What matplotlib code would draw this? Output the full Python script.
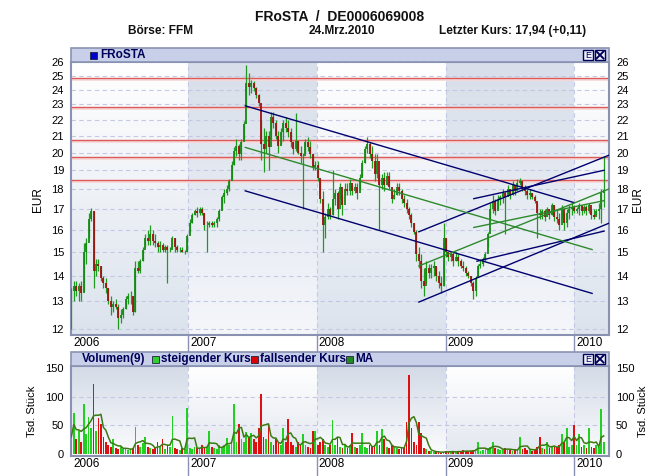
import matplotlib
matplotlib.use('Agg')
import matplotlib.pyplot as plt
import matplotlib.dates as mdates
import matplotlib.colors as mcolors
from matplotlib.patches import Rectangle
from matplotlib import font_manager as fm
import numpy as np
import pandas as pd

# ---------------- data ----------------
start_date = '2006-02-03'
n_weeks = 217
low = [12.0,13.0,13.2,13.0,13.0,13.4,14.5,15.6,16.4,13.5,
       14.0,14.2,13.8,13.5,13.3,12.9,12.5,12.6,12.7,12.0,
       12.2,12.4,12.7,12.9,12.9,12.5,12.6,14.1,14.1,14.6,
       15.2,15.3,15.3,15.3,15.2,15.0,15.0,15.0,15.0,13.7,
       15.0,15.2,15.0,15.0,15.0,15.0,14.9,15.0,15.9,16.3,
       16.7,16.6,16.7,16.7,16.0,15.0,16.1,16.1,16.1,16.1,
       16.4,17.0,17.3,17.7,17.9,18.5,19.3,19.8,19.6,19.6,
       20.8,22.8,23.6,23.8,23.9,23.4,22.9,19.6,18.9,20.0,
       19.0,20.8,21.5,20.8,20.0,20.5,20.7,21.2,20.9,20.3,
       19.9,20.1,19.9,19.4,17.0,20.0,20.1,19.7,19.0,19.0,
       18.4,17.3,15.0,15.6,16.5,16.5,16.7,17.2,16.5,17.5,
       16.7,17.7,17.7,17.7,17.7,17.8,17.5,18.0,18.7,19.4,
       20.0,19.7,19.1,18.4,18.6,16.0,18.0,17.9,18.2,18.0,
       17.3,17.5,17.7,17.7,17.3,17.1,16.8,16.5,16.1,15.8,
       14.6,14.3,13.5,13.2,13.7,13.9,13.9,14.0,13.8,13.5,
       13.3,13.6,14.8,14.6,14.6,14.4,14.6,14.4,14.3,14.2,
       14.0,13.9,13.6,13.1,13.2,14.0,14.3,14.4,14.6,15.2,
       16.5,16.8,16.7,17.0,17.2,17.3,15.8,17.7,17.5,17.7,
       17.7,18.1,18.2,17.9,17.7,17.5,17.5,17.5,17.3,15.6,
       16.5,16.5,16.4,16.7,16.5,16.7,16.4,16.3,16.0,16.5,
       16.0,16.1,16.5,16.7,16.8,16.8,16.7,16.7,16.8,16.7,
       16.8,16.5,16.5,16.7,16.5,16.3,17.1]
high = [13.5,13.8,13.8,13.7,13.8,15.4,15.6,16.8,17.05,16.9,
        14.7,14.7,14.4,14.0,13.9,13.5,13.2,13.0,13.1,12.9,
        12.7,12.8,13.2,13.3,13.4,13.2,14.6,14.6,14.7,15.2,
        15.8,16.0,16.2,16.0,15.8,15.5,15.5,15.4,15.3,15.3,
        15.2,15.7,15.6,15.3,15.2,15.2,15.1,15.8,16.5,16.8,
        17.0,17.1,17.1,17.1,16.8,16.4,16.4,16.4,16.4,16.6,
        17.0,17.7,18.0,18.2,18.5,19.5,20.3,20.8,20.5,20.8,
        21.9,25.8,25.2,24.7,24.6,24.2,23.7,22.0,21.5,21.3,
        21.3,22.5,22.5,22.0,21.3,21.5,22.0,22.2,22.0,21.5,
        20.7,22.4,20.7,20.4,20.0,20.8,20.9,20.7,19.9,19.5,
        19.5,18.5,17.9,16.8,17.3,17.1,19.0,18.0,17.9,18.3,
        17.7,18.3,18.3,18.5,18.2,18.3,18.3,18.8,19.6,20.4,
        20.9,20.6,20.4,19.9,19.9,18.8,18.8,18.9,18.9,18.9,
        18.0,18.0,18.3,18.3,18.0,17.7,17.5,17.1,16.8,16.3,
        16.0,15.2,14.9,14.3,14.6,14.5,14.5,14.6,14.4,14.2,
        14.0,16.3,15.6,15.0,15.0,15.0,15.0,14.9,14.7,14.6,
        14.4,14.2,14.0,13.8,14.0,14.5,14.7,14.8,15.0,15.9,
        17.3,17.7,17.5,17.7,17.7,18.0,17.9,18.2,18.0,18.4,
        18.2,18.5,18.6,18.4,18.2,18.0,18.0,17.8,17.7,17.3,
        17.0,17.0,17.0,17.1,17.0,17.3,17.2,17.0,16.8,17.2,
        16.8,17.0,17.2,17.3,17.2,17.1,17.3,17.2,17.2,17.2,
        17.3,17.0,17.0,17.0,17.3,18.0,19.8]
close = [13.4,13.6,13.4,13.6,13.3,15.0,15.4,16.5,16.9,14.2,
         14.5,14.4,13.9,13.7,13.5,13.0,12.8,12.9,12.8,12.4,
         12.5,12.7,13.1,13.2,13.2,12.6,14.3,14.2,14.6,15.1,
         15.6,15.5,15.8,15.5,15.4,15.2,15.3,15.1,15.2,15.1,
         15.1,15.6,15.2,15.1,15.1,15.0,15.0,15.7,16.3,16.7,
         16.9,16.8,17.0,16.8,16.2,16.2,16.3,16.2,16.3,16.5,
         16.9,17.6,17.8,18.0,18.4,19.3,20.1,20.4,19.9,20.6,
         21.7,24.5,24.2,24.5,24.1,23.6,23.1,20.5,20.2,21.0,
         20.3,22.2,21.8,21.0,20.4,21.2,21.8,21.5,21.2,20.6,
         20.2,20.7,20.0,19.8,19.8,20.6,20.3,19.9,19.2,19.3,
         18.6,17.5,16.2,16.6,17.0,16.7,17.5,17.8,17.0,18.1,
         17.2,18.0,17.9,18.3,17.9,18.1,17.8,18.6,19.4,20.2,
         20.5,19.9,19.5,18.8,19.5,18.2,18.6,18.2,18.7,18.1,
         17.5,17.7,18.1,17.9,17.5,17.3,17.0,16.7,16.3,15.9,
         14.9,14.6,13.8,13.6,14.3,14.1,14.3,14.4,14.0,13.7,
         13.6,15.6,15.0,14.8,14.9,14.6,14.8,14.6,14.4,14.3,
         14.1,14.0,13.7,13.4,13.9,14.4,14.5,14.7,14.9,15.8,
         17.0,17.4,16.9,17.5,17.6,17.8,17.6,18.0,17.7,18.2,
         17.9,18.3,18.4,18.0,17.9,17.7,17.8,17.6,17.4,16.8,
         16.7,16.9,16.6,17.0,16.7,17.2,16.6,16.5,16.2,17.0,
         16.3,16.8,17.0,17.1,16.9,17.0,17.2,16.9,17.1,16.9,
         17.2,16.7,16.6,16.9,17.0,17.8,17.94]
volume = [30,72,25,40,20,88,35,64,45,122,
          40,63,52,30,20,15,12,25,10,8,
          12,8,10,6,8,10,47,15,12,18,
          30,12,10,8,10,20,12,25,8,15,
          12,66,10,8,6,10,8,81,10,8,
          12,10,8,15,10,12,40,12,10,8,
          15,12,15,28,15,20,88,20,52,25,
          20,38,30,36,25,20,45,105,30,25,
          50,20,15,25,18,15,45,20,61,20,
          15,12,20,15,34,15,12,10,40,40,
          15,20,25,15,12,15,59,15,28,12,
          10,15,10,15,37,12,10,15,37,12,
          10,15,12,15,40,15,44,25,12,10,
          15,12,10,8,12,10,56,139,45,20,
          15,55,37,10,8,5,4,3,3,3,
          2,3,5,3,3,4,3,5,3,6,
          4,5,4,6,8,20,5,6,8,10,
          12,20,10,8,6,8,10,8,6,5,
          8,6,30,8,10,6,8,5,8,12,
          30,10,8,20,10,12,12,12,15,35,
          20,45,12,15,50,15,35,12,15,10,
          45,12,10,15,12,78,20]
resistance_levels = [24.8, 22.8, 20.75, 19.75, 18.45]
navy_lines = [(('2007-06-12', 22.9), ('2010-01-01', 17.3)),
              (('2007-06-12', 17.9), ('2010-02-21', 13.3)),
              (('2008-10-17', 12.97), ('2010-04-10', 16.3)),
              (('2008-10-17', 15.9), ('2010-04-10', 19.85)),
              (('2009-03-31', 14.6), ('2010-03-27', 15.93)),
              (('2009-03-22', 17.5), ('2010-03-27', 19.0))]
green_lines = [(('2007-06-12', 20.3), ('2010-02-21', 15.1)),
               (('2008-10-17', 14.4), ('2010-04-10', 18.0)),
               (('2009-03-22', 16.1), ('2010-03-27', 17.4))]
price_ticks = list(range(12, 27))
vol_ticks = [0, 50, 100, 150]
year_labels = ['2006', '2007', '2008', '2009', '2010']
x_min, x_max = '2006-02-02', '2010-04-10'

# ---------------- style ----------------
plt.rcParams['font.family'] = ['Liberation Sans', 'DejaVu Sans']
try:
    fm.findfont(fm.FontProperties(family='Liberation Sans Narrow'), fallback_to_default=False)
    NARROW = ['Liberation Sans Narrow', 'Liberation Sans', 'DejaVu Sans']
    SUB_SIZE = 9.5
except Exception:
    NARROW = ['Liberation Sans', 'DejaVu Sans']
    SUB_SIZE = 8.6

W, H = 663, 476
fig = plt.figure(figsize=(W / 100, H / 100), dpi=100)
fig.patch.set_facecolor('white')

def fx(px):
    return px / W

def fy(py):
    return 1 - py / H

NAVY = '#00005a'
SPINE = '#8a92b4'
GRID = '#c4c8e4'
HEADER = '#c8cfe8'

dates = pd.date_range(start_date, periods=n_weeks, freq='7D')
dn = mdates.date2num(dates)
xmin = mdates.date2num(pd.Timestamp(x_min))
xmax = mdates.date2num(pd.Timestamp(x_max))
year_starts = [mdates.date2num(pd.Timestamp(f'{y}-01-01')) for y in range(2007, 2011)]
label_pos = [xmin] + year_starts

L, R = 71, 609
main_rect = [fx(L), fy(335), fx(R) - fx(L), fy(62) - fy(335)]
vol_rect = [fx(L), fy(456), fx(R) - fx(L), fy(366) - fy(456)]

def gradient_bg(rect, shaded_top, shaded_bot, plain_top, plain_bot):
    bg = fig.add_axes(rect, zorder=0)
    edges = [xmin] + year_starts + [xmax]
    for k in range(len(edges) - 1):
        x0, x1 = edges[k], edges[k + 1]
        if k % 2 == 1:
            ct, cb = shaded_top, shaded_bot
        else:
            ct, cb = plain_top, plain_bot
        t = np.linspace(0, 1, 64)[:, None]
        top = np.array(mcolors.to_rgb(ct))
        bot = np.array(mcolors.to_rgb(cb))
        img = (top * (1 - t) + bot * t)[:, None, :]
        bg.imshow(img, extent=[x0, x1, 0, 1], origin='upper', aspect='auto',
                  interpolation='bilinear')
    bg.set_xlim(xmin, xmax)
    bg.set_ylim(0, 1)
    bg.axis('off')
    return bg

gradient_bg(main_rect, '#d8dfea', '#f4f6fa', '#ffffff', '#dce3ed')
gradient_bg(vol_rect, '#ffffff', '#e2e7ef', '#d4dbe7', '#fbfcfd')

# ---------------- main price axes ----------------
ax = fig.add_axes(main_rect, zorder=1)
ax.set_facecolor('none')
ax.set_yscale('log')
ax.set_xlim(xmin, xmax)
ax.set_ylim(11.79, 26.0)
ax.set_yticks(price_ticks)
ax.set_yticklabels([str(v) for v in price_ticks])
ax.yaxis.set_minor_locator(matplotlib.ticker.NullLocator())
ax.tick_params(axis='y', which='both', length=0, pad=5, labelsize=8,
               labelleft=True, labelright=True)
ax.set_xticks(year_starts)
ax.set_xticklabels([])
ax.tick_params(axis='x', length=16, width=1, color=SPINE, direction='out')
for s in ax.spines.values():
    s.set_color(SPINE)
    s.set_linewidth(1.5)

for v in price_ticks:
    ax.axhline(v, color=GRID, lw=0.8, ls=(0, (4, 3)), zorder=1)
for xv in year_starts:
    ax.axvline(xv, color=GRID, lw=0.8, ls=(0, (4, 3)), zorder=1)
for v in resistance_levels:
    ax.axhline(v * 0.9975, color='#f8d8d8', lw=2.0, zorder=2)
    ax.axhline(v, color='#dd5a5a', lw=1.0, zorder=2)

opens = [close[0]] + close[:-1]
up = [c >= o for c, o in zip(close, opens)]
ax.vlines(dn, low, high, colors='#1f9a1f', lw=0.9, zorder=3)
body_lo = [min(o, c) for o, c in zip(opens, close)]
body_hi = [max(o, c) for o, c in zip(opens, close)]
ax.vlines(dn, body_lo, body_hi, colors=['#148a14' if u else '#a01010' for u in up],
          lw=1.3, zorder=4)

for (d0, v0), (d1, v1) in navy_lines:
    ax.plot([mdates.date2num(pd.Timestamp(d0)), mdates.date2num(pd.Timestamp(d1))],
            [v0, v1], color='#00006e', lw=1.0, zorder=5)
for (d0, v0), (d1, v1) in green_lines:
    ax.plot([mdates.date2num(pd.Timestamp(d0)), mdates.date2num(pd.Timestamp(d1))],
            [v0, v1], color='#2b8a2b', lw=1.0, zorder=5)

# ---------------- volume axes ----------------
vax = fig.add_axes(vol_rect, zorder=1)
vax.set_facecolor('none')
vax.set_xlim(xmin, xmax)
vax.set_ylim(-4, 154)
vax.set_yticks(vol_ticks)
vax.set_yticklabels([str(v) for v in vol_ticks])
vax.tick_params(axis='y', length=0, pad=5, labelsize=8, labelleft=True, labelright=True)
vax.set_xticks(year_starts)
vax.set_xticklabels([])
vax.tick_params(axis='x', length=20, width=1, color=SPINE, direction='out')
for s in vax.spines.values():
    s.set_color(SPINE)
    s.set_linewidth(1.5)
for v in [50, 100]:
    vax.axhline(v, color=GRID, lw=0.8, ls=(0, (4, 3)), zorder=1)
for xv in year_starts:
    vax.axvline(xv, color=GRID, lw=0.8, ls=(0, (4, 3)), zorder=1)
vax.bar(dn, volume, width=5.0, color=['#22d022' if u else '#dd1111' for u in up],
        linewidth=0, zorder=3)
ma = pd.Series(volume, dtype=float).rolling(4, min_periods=1).mean()
vax.plot(dn, ma, color='#3b7a12', lw=1.1, zorder=4)

# ---------------- x labels ----------------
for xv, lab in zip(label_pos, year_labels):
    xf = ax.transData.transform((xv, 20))[0] / W
    fig.text(xf + 2 / W, fy(343), lab, ha='left', va='center', fontsize=8.5)
    fig.text(xf + 2 / W, fy(464), lab, ha='left', va='center', fontsize=8.5)

# ---------------- axis titles ----------------
fig.text(fx(38), fy(200), 'EUR', rotation=90, ha='center', va='center', fontsize=8.5)
fig.text(fx(638), fy(200), 'EUR', rotation=90, ha='center', va='center', fontsize=8.5)
fig.text(fx(32), fy(411), 'Tsd. Stück', rotation=90, ha='center', va='center', fontsize=8)
fig.text(fx(643), fy(411), 'Tsd. Stück', rotation=90, ha='center', va='center', fontsize=8)

# ---------------- header bars ----------------
def header_bar(y0, y1):
    fig.patches.append(Rectangle((fx(L), fy(y1)), fx(R) - fx(L), fy(y0) - fy(y1),
                                 transform=fig.transFigure, facecolor=HEADER,
                                 edgecolor=SPINE, lw=1.2, zorder=2))
    for bx, lab in [(583, 'E'), (595, 'X')]:
        fig.patches.append(Rectangle((fx(bx), fy(y1 - 2)), fx(10), fy(y0 + 2) - fy(y1 - 2),
                                     transform=fig.transFigure, facecolor='#eef0fa',
                                     edgecolor=NAVY, lw=1.0, zorder=3))
        if lab == 'E':
            fig.text(fx(bx + 5), fy((y0 + y1) / 2), 'E', ha='center', va='center',
                     fontsize=6.5, color=NAVY, zorder=4)
        else:
            fig.lines.append(matplotlib.lines.Line2D([fx(bx + 1.5), fx(bx + 8.5)],
                                                     [fy(y0 + 3.5), fy(y1 - 3.5)],
                                                     transform=fig.transFigure,
                                                     color=NAVY, lw=1.4, zorder=4))
            fig.lines.append(matplotlib.lines.Line2D([fx(bx + 1.5), fx(bx + 8.5)],
                                                     [fy(y1 - 3.5), fy(y0 + 3.5)],
                                                     transform=fig.transFigure,
                                                     color=NAVY, lw=1.4, zorder=4))

def legend_square(x, yc, color):
    fig.patches.append(Rectangle((fx(x), fy(yc + 3.5)), fx(7), fy(yc - 3.5) - fy(yc + 3.5),
                                 transform=fig.transFigure, facecolor=color,
                                 edgecolor='#222244', lw=0.6, zorder=3))

header_bar(48, 62)
legend_square(90, 55.5, '#0000cc')
fig.text(fx(100), fy(55.5), 'FRoSTA', ha='left', va='center', fontsize=8.5,
         fontweight='bold', color=NAVY, zorder=4)

header_bar(352, 366)
yc = 359
fig.text(fx(82), fy(yc), 'Volumen(9)', ha='left', va='center', fontsize=8.5,
         fontweight='bold', color=NAVY, zorder=4)
legend_square(152, yc, '#33cc33')
fig.text(fx(161), fy(yc), 'steigender Kurs', ha='left', va='center', fontsize=8.5,
         fontweight='bold', color=NAVY, zorder=4)
legend_square(251, yc, '#dd0000')
fig.text(fx(260), fy(yc), 'fallsender Kurs', ha='left', va='center', fontsize=8.5,
         fontweight='bold', color=NAVY, zorder=4)
legend_square(346, yc, '#1f8a1f')
fig.text(fx(355), fy(yc), 'MA', ha='left', va='center', fontsize=8.5,
         fontweight='bold', color=NAVY, zorder=4)

# ---------------- titles ----------------
fig.text(fx(340), fy(17), 'FRoSTA  /  DE0006069008', ha='center', va='center',
         fontsize=10, fontweight='bold', color='#111111')
fig.text(fx(161), fy(31), 'Börse: FFM', ha='center', va='center', fontsize=SUB_SIZE,
         fontweight='bold', family=NARROW, color='#111111')
fig.text(fx(342), fy(31), '24.Mrz.2010', ha='center', va='center', fontsize=SUB_SIZE,
         fontweight='bold', family=NARROW, color='#111111')
fig.text(fx(513), fy(31), 'Letzter Kurs: 17,94 (+0,11)', ha='center', va='center',
         fontsize=SUB_SIZE, fontweight='bold', family=NARROW, color='#111111')

fig.savefig('out.png', dpi=100, facecolor='white')
